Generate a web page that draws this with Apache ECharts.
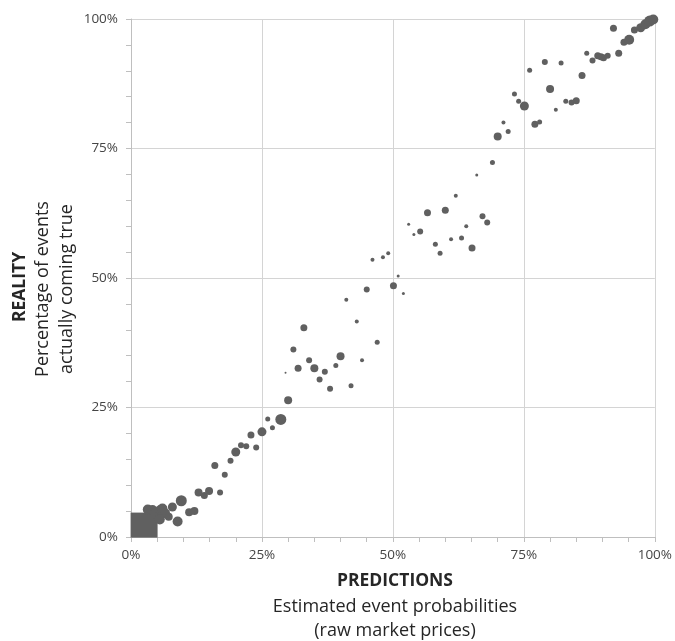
<!DOCTYPE html>
<html>
<head>
<meta charset="utf-8">
<script src="https://cdn.jsdelivr.net/npm/echarts@6/dist/echarts.min.js"></script>
<style>html,body{margin:0;padding:0;background:#fff}#c{width:675px;height:641px}</style>
</head>
<body>
<div id="c"></div>
<script>
// [prediction %, reality %, marker diameter px]
const originBin = [[2.5, 2.3, 27, 25]];
const points = [
  [3.2,5.3,10],[4.1,5.2,10],[4.8,4.6,12],[5.6,5.2,10],[6.0,5.5,10],[6.5,4.6,10],[5.5,3.4,10],
  [7.2,3.9,8],[7.9,5.8,9],[8.9,3.0,10],[9.6,7.0,11],[11.1,4.8,8],[12.1,5.0,8],
  [12.9,8.6,8],[14.0,8.0,7],[14.9,8.9,8],[16.0,13.8,7],[17.0,8.6,6],[17.9,12.0,6],
  [19.0,14.7,6],[20.0,16.4,9],[21.0,17.7,6],[22.0,17.5,6],[22.9,19.7,7],[23.9,17.3,6],
  [25.0,20.3,9],[26.1,22.8,5],[27.0,21.1,5],[28.6,22.7,11],[30.0,26.4,8],
  [29.5,31.7,2],[31.0,36.2,6],[31.9,32.6,7],[33.0,40.4,7],[34.0,34.1,6],[35.0,32.6,8],
  [36.0,30.4,6],[37.0,31.9,6],[38.0,28.6,6],[39.1,33.1,5],[40.0,34.9,8],[41.1,45.8,4],
  [42.0,29.2,5],[43.1,41.6,4],[44.1,34.1,4],[45.0,47.8,6],[46.1,53.5,4],[47.0,37.6,5],
  [48.1,54.0,4],[49.1,54.8,4],[50.1,48.5,7],[51.0,50.4,3],[52.0,47.0,3],[53.0,60.4,3],
  [54.0,58.4,3],[55.2,59.0,6],[56.6,62.6,7],[58.1,56.5,5],[59.0,54.8,5],[60.0,63.1,7],
  [61.1,57.5,4],[62.0,65.9,4],[63.1,57.7,5],[64.0,60.0,4],[65.1,55.8,7],[66.0,69.9,3],
  [67.1,61.9,6],[68.0,60.7,6],[69.0,72.3,5],[70.0,77.3,8],[71.1,80.0,4],[72.0,78.3,5],
  [73.2,85.5,5],[74.0,84.1,5],[75.1,83.2,9],[76.1,90.1,5],[77.1,79.7,7],[78.0,80.1,5],
  [79.0,91.7,6],[80.0,86.5,8],[81.1,82.5,4],[82.1,91.5,5],[83.0,84.1,5],[84.1,83.9,6],
  [85.0,84.2,7],[86.1,89.1,7],[87.0,93.4,5],[88.1,92.0,6],[89.1,92.9,7],[89.7,92.7,7],
  [90.2,92.5,7],[91.0,92.9,6],[92.1,98.2,7],[93.1,93.4,7],[94.1,95.5,7],[95.1,96.0,10],
  [96.1,97.9,7],[97.3,98.3,9],[98.2,99.0,10],[99.0,99.6,11],[99.7,99.9,10]
];
const tickLabels = ['0%','25%','50%','75%','100%'];

const chart = echarts.init(document.getElementById('c'));
const labelFmt = v => (v % 25 === 0 ? tickLabels[v / 25] : '');
const axisCommon = {
  type: 'value', min: 0, max: 100, interval: 25,
  axisLine: { show: true, lineStyle: { color: '#bfbfbf', width: 1 } },
  axisTick: { show: true, length: 5, lineStyle: { color: '#bfbfbf' } },
  minorTick: { show: true, splitNumber: 5, length: 5, lineStyle: { color: '#bfbfbf' } },
  minorSplitLine: { show: false },
  splitLine: { show: true, lineStyle: { color: '#d4d4d4', width: 1 } },
  axisLabel: { formatter: labelFmt, color: '#454545', fontSize: 13.5, fontFamily: 'Open Sans' }
};
const titleFont = (bold) => (bold ? 'bold 17.5px "Open Sans"' : '18px "Open Sans"');
chart.setOption({
  animation: false,
  grid: { left: 131, right: 17, top: 19, bottom: 104, containLabel: false },
  xAxis: Object.assign({}, axisCommon, { axisLabel: Object.assign({}, axisCommon.axisLabel, { margin: 11 }) }),
  yAxis: Object.assign({}, axisCommon, { axisLabel: Object.assign({}, axisCommon.axisLabel, { margin: 13 }) }),
  series: [
    {
      type: 'scatter', clip: true, symbol: 'rect',
      data: originBin.map(p => ({ value: [p[0], p[1]], symbolSize: [p[2], p[3]] })),
      itemStyle: { color: '#606060', opacity: 1 }
    },
    {
      type: 'scatter', clip: true,
      data: points.map(p => ({ value: [p[0], p[1]], symbolSize: p[2] })),
      itemStyle: { color: '#606060', opacity: 1 }
    }
  ],
  graphic: [
    { type: 'text', x: 20, y: 287, rotation: Math.PI / 2,
      style: { text: 'REALITY', fill: '#262626', font: titleFont(true), textAlign: 'center', textVerticalAlign: 'middle' } },
    { type: 'text', x: 43, y: 289, rotation: Math.PI / 2,
      style: { text: 'Percentage of events', fill: '#262626', font: titleFont(false), textAlign: 'center', textVerticalAlign: 'middle' } },
    { type: 'text', x: 67, y: 289, rotation: Math.PI / 2,
      style: { text: 'actually coming true', fill: '#262626', font: titleFont(false), textAlign: 'center', textVerticalAlign: 'middle' } },
    { type: 'text', x: 395, y: 581,
      style: { text: 'PREDICTIONS', fill: '#262626', font: titleFont(true), textAlign: 'center', textVerticalAlign: 'middle' } },
    { type: 'text', x: 395, y: 607,
      style: { text: 'Estimated event probabilities', fill: '#262626', font: titleFont(false), textAlign: 'center', textVerticalAlign: 'middle' } },
    { type: 'text', x: 395, y: 631,
      style: { text: '(raw market prices)', fill: '#262626', font: titleFont(false), textAlign: 'center', textVerticalAlign: 'middle' } }
  ]
});
</script>
</body>
</html>
